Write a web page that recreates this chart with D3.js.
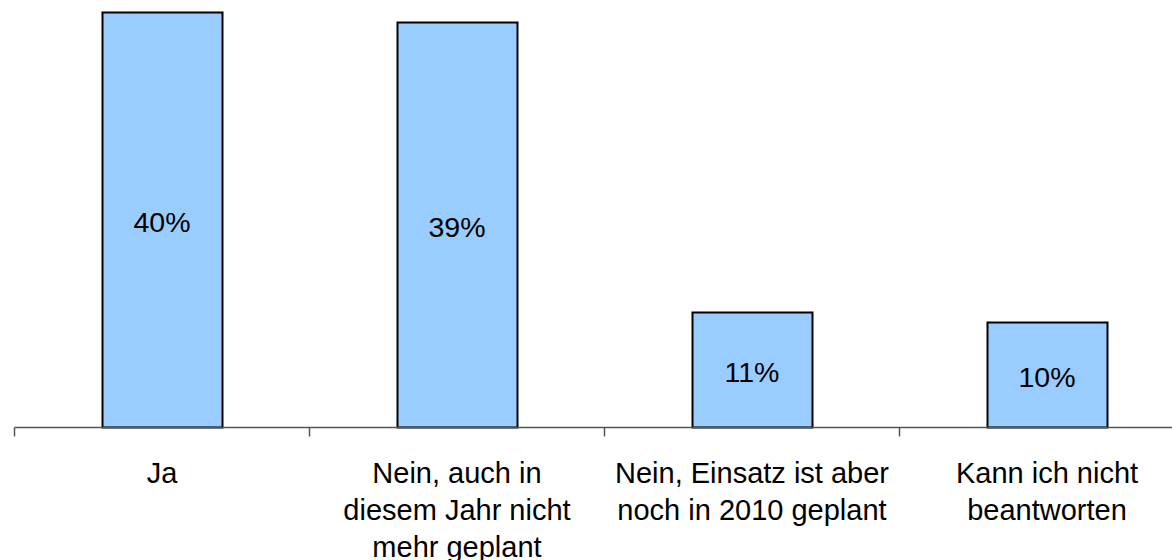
<!DOCTYPE html>
<html>
<head>
<meta charset="utf-8">
<script src="https://cdn.jsdelivr.net/npm/d3@7"></script>
<style>
  body { margin: 0; background: #fff; }
  svg { display: block; font-family: "Liberation Sans", Arial, sans-serif; }
</style>
</head>
<body>
<svg width="1172" height="560"></svg>
<script>
// data
var categories = [
    ["Ja"],
    ["Nein, auch in", "diesem Jahr nicht", "mehr geplant"],
    ["Nein, Einsatz ist aber", "noch in 2010 geplant"],
    ["Kann ich nicht", "beantworten"]
];
var values = [39.9, 39.0, 11.1, 10.1];
var valueLabels = ["40%", "39%", "11%", "10%"];

var svg = d3.select("svg"),
    baseY = 427.5,
    left = 14.5,
    band = 295;

var x = d3.scaleBand()
    .domain(d3.range(categories.length))
    .range([left, left + band * categories.length])
    .paddingInner(0.593)
    .paddingOuter(0.2965);

var y = d3.scaleLinear()
    .domain([0, 41.1])
    .range([baseY, 0]);

var g = svg.append("g");

var bars = g.selectAll(".bar")
    .data(values)
    .enter().append("g")
    .attr("class", "bar");

bars.append("rect")
    .attr("x", function (d, i) { return Math.round(x(i)) + 0.5; })
    .attr("y", function (d) { return Math.round(y(d)) + 0.5; })
    .attr("width", function () { return Math.round(x.bandwidth()); })
    .attr("height", function (d) { return baseY - Math.round(y(d)) - 0.5; })
    .attr("fill", "#99ccff")
    .attr("stroke", "#000")
    .attr("stroke-width", 2);

bars.append("text")
    .attr("x", function (d, i) { return x(i) + x.bandwidth() / 2; })
    .attr("y", function (d) { return (y(d) + baseY) / 2 + 12; })
    .attr("text-anchor", "middle")
    .style("font-size", "28.5px")
    .attr("fill", "#000")
    .text(function (d, i) { return valueLabels[i]; });

// category axis with ticks between bands
var edges = d3.range(categories.length + 1).map(function (i) { return left + band * i; });

g.append("line")
    .attr("x1", left).attr("x2", left + band * categories.length)
    .attr("y1", baseY).attr("y2", baseY)
    .attr("stroke", "#555")
    .attr("stroke-width", 1.5);

g.selectAll(".tick")
    .data(edges)
    .enter().append("line")
    .attr("class", "tick")
    .attr("x1", function (d) { return d; }).attr("x2", function (d) { return d; })
    .attr("y1", baseY).attr("y2", baseY + 9)
    .attr("stroke", "#555")
    .attr("stroke-width", 1.5);

var labels = g.selectAll(".cat")
    .data(categories)
    .enter().append("text")
    .attr("class", "cat")
    .attr("text-anchor", "middle")
    .style("font-size", "29px")
    .attr("fill", "#000");

labels.selectAll("tspan")
    .data(function (d, i) { return d.map(function (s) { return { s: s, i: i }; }); })
    .enter().append("tspan")
    .attr("x", function (d) { return x(d.i) + x.bandwidth() / 2; })
    .attr("y", function (d, j) { return 483 + j * 37; })
    .text(function (d) { return d.s; });
</script>
</body>
</html>
